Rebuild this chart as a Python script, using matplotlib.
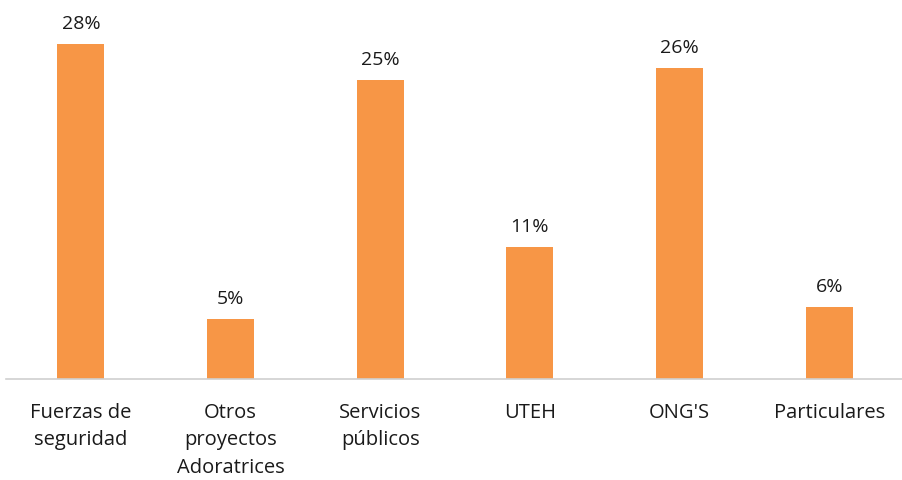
import matplotlib
matplotlib.use("Agg")
import matplotlib.pyplot as plt

categories = ["Fuerzas de\nseguridad", "Otros\nproyectos\nAdoratrices", "Servicios\npúblicos", "UTEH", "ONG'S", "Particulares"]
values = [28, 5, 25, 11, 26, 6]
value_labels = ["28%", "5%", "25%", "11%", "26%", "6%"]

plt.rcParams['font.family'] = ['Open Sans', 'DejaVu Sans']

fig = plt.figure(figsize=(9.03, 4.8), dpi=100)
ax = fig.add_axes([6/903, 101/480, 898/903, 379/480])
x = list(range(len(categories)))
ax.bar(x, values, width=0.315, color="#F79646", zorder=2)
ax.set_xlim(-0.5, len(categories) - 0.5)
ax.set_ylim(0, 31.7)
for xi, v, lab in zip(x, values, value_labels):
    ax.annotate(lab, (xi, v), xytext=(0, 8), textcoords="offset points",
                ha="center", va="bottom", fontsize=14, color="#1a1a1a")
for s in ["top", "right", "left"]:
    ax.spines[s].set_visible(False)
ax.spines["bottom"].set_color("#D0D0D0")
ax.spines["bottom"].set_linewidth(1.2)
ax.set_yticks([])
ax.set_xticks(x)
ax.set_xticklabels(categories, fontsize=14.5, color="#1a1a1a", linespacing=1.5)
ax.tick_params(axis="x", length=0, pad=17)
fig.savefig("out.png", dpi=100)
